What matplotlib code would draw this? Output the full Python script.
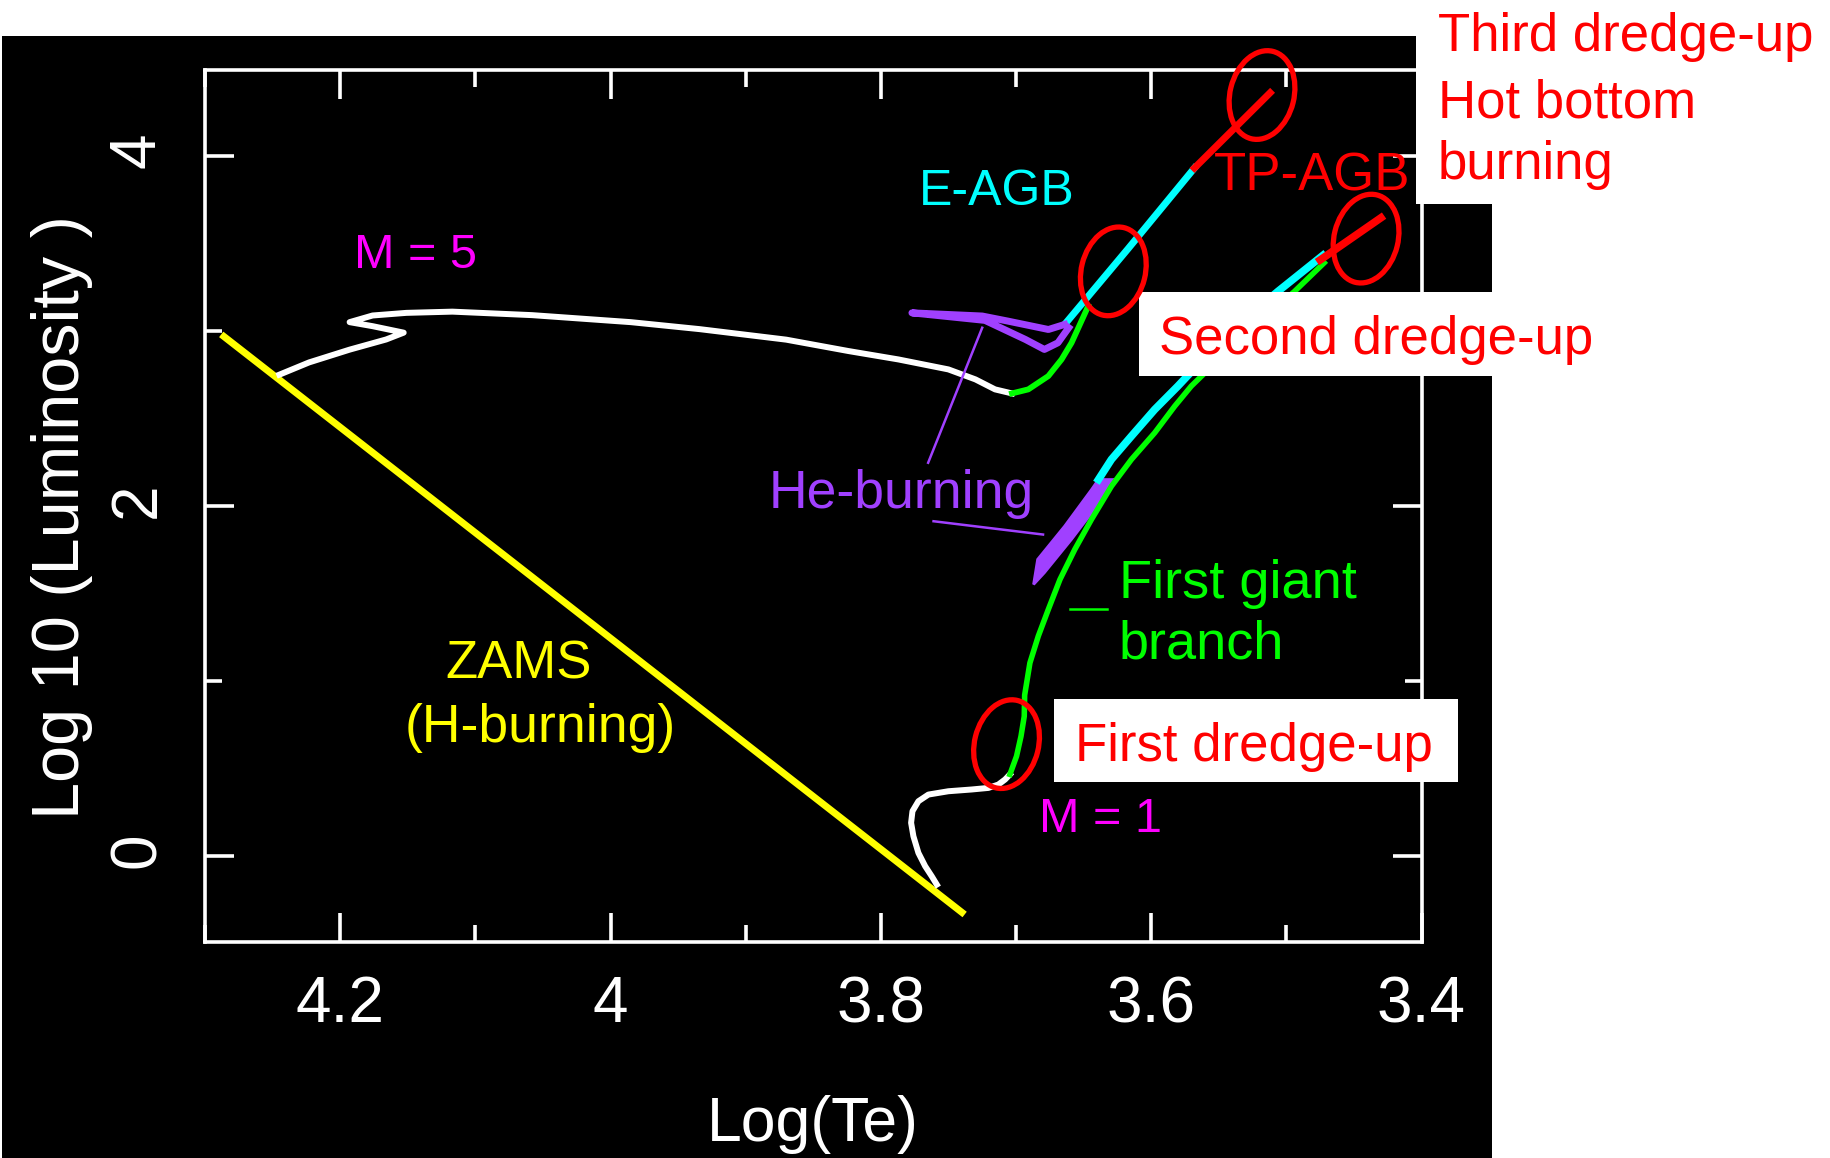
import matplotlib
matplotlib.use("Agg")
import matplotlib.pyplot as plt
from matplotlib.patches import Rectangle, Ellipse
from matplotlib.transforms import ScaledTranslation
from matplotlib.ticker import MultipleLocator, FixedLocator, FixedFormatter

plt.rcParams['font.family'] = ['Liberation Sans', 'DejaVu Sans']

W, H = 1830, 1158

# zero-age main sequence
zams_te = [4.288, 3.738]
zams_l = [2.98, -0.333]

# 5 Msun track: main sequence + crossing, giant branch, E-AGB, TP-AGB
m5_ms_te = [4.245, 4.223, 4.193, 4.166, 4.153, 4.176, 4.193, 4.176, 4.151, 4.117, 4.058,
            3.985, 3.934, 3.870, 3.824, 3.787, 3.750, 3.730, 3.7155, 3.703]
m5_ms_l = [2.75, 2.82, 2.893, 2.951, 2.99, 3.027, 3.05, 3.088, 3.103, 3.11, 3.09,
           3.05, 3.01, 2.95, 2.885, 2.837, 2.780, 2.723, 2.666, 2.643]
m5_rgb_te = [3.703, 3.6909, 3.6761, 3.6663, 3.6589, 3.6516, 3.6466]
m5_rgb_l = [2.643, 2.666, 2.742, 2.837, 2.932, 3.056, 3.141]
m5_he_te = [3.664, 3.676, 3.706, 3.725, 3.777, 3.723, 3.693, 3.679, 3.669, 3.661]
m5_he_l = [3.037, 3.008, 3.056, 3.085, 3.103, 3.06, 2.951, 2.894, 2.932, 3.018]
m5_eagb_te = [3.664, 3.617, 3.568]
m5_eagb_l = [3.037, 3.47, 3.93]
m5_tpagb_te = [3.568, 3.512]
m5_tpagb_l = [3.93, 4.36]

# 1 Msun track
m1_ms_te = [3.7586, 3.7623, 3.7672, 3.7722, 3.7759, 3.7776, 3.7766, 3.7722, 3.7648,
            3.7500, 3.7328, 3.7204, 3.7131, 3.7081, 3.7045]
m1_ms_l = [-0.162, -0.115, -0.057, 0.019, 0.114, 0.191, 0.257, 0.314, 0.352,
           0.371, 0.381, 0.390, 0.409, 0.438, 0.467]
m1_rgb_te = [3.7045, 3.6996, 3.6963, 3.6939, 3.6936, 3.6897, 3.6835, 3.6761, 3.6675,
             3.6565, 3.6442, 3.6294, 3.6146, 3.5974, 3.5826, 3.5703, 3.535, 3.494, 3.472]
m1_rgb_l = [0.467, 0.571, 0.685, 0.799, 0.92, 1.104, 1.257, 1.409, 1.580,
            1.752, 1.923, 2.113, 2.266, 2.418, 2.570, 2.685, 2.95, 3.225, 3.389]
m1_he_te = [3.687, 3.684, 3.664, 3.644, 3.639, 3.629, 3.644, 3.659, 3.679]
m1_he_l = [1.552, 1.695, 1.885, 2.095, 2.151, 2.151, 1.961, 1.809, 1.619]
m1_eagb_te = [3.639, 3.6294, 3.6146, 3.5974, 3.5802, 3.548, 3.5063, 3.473]
m1_eagb_l = [2.151, 2.266, 2.399, 2.551, 2.685, 2.95, 3.225, 3.431]
m1_tpagb_te = [3.475, 3.430]
m1_tpagb_l = [3.405, 3.646]

# leader lines
he_lead1_te, he_lead1_l = [3.725, 3.765], [3.018, 2.247]
he_lead2_te, he_lead2_l = [3.761, 3.680], [1.913, 1.837]
fgb_lead_te, fgb_lead_l = [3.660, 3.633], [1.409, 1.409]

# dredge-up circles (centre in logTe, logL)
circle_te = [3.518, 3.628, 3.441, 3.707]
circle_l = [4.347, 3.34, 3.527, 0.64]

xtick_vals = [4.2, 4.0, 3.8, 3.6, 3.4]
xtick_labels = ['4.2', '4', '3.8', '3.6', '3.4']
ytick_vals = [0, 2, 4]
ytick_labels = ['0', '2', '4']

RED = '#ff0000'
MAG = '#ff00ff'
PUR = '#a040ff'
CYA = '#00ffff'
GRN = '#00ff00'
YEL = '#ffff00'


def fx(px):
    return px / W


def fy(py):
    return 1 - py / H


fig = plt.figure(figsize=(W / 100, H / 100), dpi=100, facecolor='white')

# black backdrop of the plot
fig.add_artist(Rectangle((fx(2), 0), fx(1492) - fx(2), fy(36), transform=fig.transFigure,
                         facecolor='black', edgecolor='none', zorder=-5))

ax = fig.add_axes([fx(205), 216 / H, 1216.5 / W, 872 / H])
ax.set_facecolor('black')
ax.set_xlim(4.3, 3.4)
ax.set_ylim(-0.49, 4.49)

for s in ax.spines.values():
    s.set_color('white')
    s.set_linewidth(2.6)

ax.xaxis.set_major_locator(FixedLocator(xtick_vals))
ax.xaxis.set_major_formatter(FixedFormatter(xtick_labels))
ax.xaxis.set_minor_locator(MultipleLocator(0.1))
ax.yaxis.set_major_locator(FixedLocator(ytick_vals))
ax.yaxis.set_major_formatter(FixedFormatter(ytick_labels))
ax.yaxis.set_minor_locator(MultipleLocator(1))
ax.tick_params(which='both', direction='in', top=True, right=True, color='white', width=2.6)
ax.tick_params(which='major', length=21, labelsize=46, labelcolor='white')
ax.tick_params(which='minor', length=12)
ax.tick_params(axis='x', which='major', pad=24)
ax.tick_params(axis='y', which='major', pad=27, labelrotation=90)

ax.set_xlabel('Log(Te)', color='white', fontsize=45)
ax.xaxis.set_label_coords(0.5, -0.175)
ax.set_ylabel('Log 10 (Luminosity )', color='white', fontsize=48)
ax.yaxis.set_label_coords(-0.092, 0.487)

# tracks
ax.plot(zams_te, zams_l, color=YEL, lw=5, solid_capstyle='butt')
ax.plot(m5_ms_te, m5_ms_l, color='white', lw=4.3, solid_joinstyle='round')
ax.plot(m5_eagb_te, m5_eagb_l, color=CYA, lw=5)
ax.plot(m5_rgb_te, m5_rgb_l, color=GRN, lw=4.2, solid_joinstyle='round')
ax.plot(m5_he_te, m5_he_l, color=PUR, lw=5, solid_joinstyle='round')
ax.plot(m5_tpagb_te, m5_tpagb_l, color=RED, lw=5)

ax.plot(m1_ms_te, m1_ms_l, color='white', lw=4.3, solid_joinstyle='round')
ax.plot(m1_eagb_te, m1_eagb_l, color=CYA, lw=5.5, solid_joinstyle='round')
ax.plot(m1_rgb_te, m1_rgb_l, color=GRN, lw=4, solid_joinstyle='round')
ax.fill(m1_he_te, m1_he_l, color=PUR, lw=2)
ax.plot(m1_tpagb_te, m1_tpagb_l, color=RED, lw=5.5)

ax.plot(he_lead1_te, he_lead1_l, color=PUR, lw=1.8)
ax.plot(he_lead2_te, he_lead2_l, color=PUR, lw=1.8)
ax.plot(fgb_lead_te, fgb_lead_l, color=GRN, lw=1.8)

# labels inside the diagram
ax.text(4.190, 3.36, 'M = 5', color=MAG, fontsize=35, va='baseline')
ax.text(3.683, 0.14, 'M = 1', color=MAG, fontsize=35, va='baseline')
ax.text(3.772, 3.72, 'E-AGB', color=CYA, fontsize=36, va='baseline')
ax.text(3.883, 1.987, 'He-burning', color=PUR, fontsize=38.5, va='baseline')
ax.text(3.624, 1.473, 'First giant', color=GRN, fontsize=39, va='baseline')
ax.text(3.624, 1.127, 'branch', color=GRN, fontsize=39, va='baseline')
ax.text(4.122, 1.013, 'ZAMS', color=YEL, fontsize=38, va='baseline')
ax.text(4.152, 0.653, '(H-burning)', color=YEL, fontsize=38.5, va='baseline')
ax.text(3.5534, 3.80, 'TP-AGB', color=RED, fontsize=38, va='baseline', zorder=6)

# white callout boxes
for x0, y0, x1, y1 in [(1416, 0, 1830, 204), (1139, 292, 1500, 376), (1054, 699, 1458, 782)]:
    fig.add_artist(Rectangle((fx(x0), fy(y1)), fx(x1) - fx(x0), (y1 - y0) / H,
                             transform=fig.transFigure, facecolor='white',
                             edgecolor='none', zorder=5))

fig.text(fx(1438), fy(51), 'Third dredge-up', color=RED, fontsize=38, va='baseline', zorder=6)
fig.text(fx(1438), fy(117), 'Hot bottom', color=RED, fontsize=38, va='baseline', zorder=6)
fig.text(fx(1438), fy(179), 'burning', color=RED, fontsize=38, va='baseline', zorder=6)
fig.text(fx(1159), fy(354), 'Second dredge-up', color=RED, fontsize=38, va='baseline', zorder=6)
fig.text(fx(1075), fy(761), 'First dredge-up', color=RED, fontsize=38, va='baseline', zorder=6)

# circles around the dredge-up episodes
for te, lum in zip(circle_te, circle_l):
    tr = fig.dpi_scale_trans + ScaledTranslation(te, lum, ax.transData)
    fig.add_artist(Ellipse((0, 0), 0.64, 0.90, angle=-14, transform=tr,
                           facecolor='none', edgecolor=RED, lw=3.8, zorder=7))

fig.savefig('out.png', dpi=100, facecolor='white')
